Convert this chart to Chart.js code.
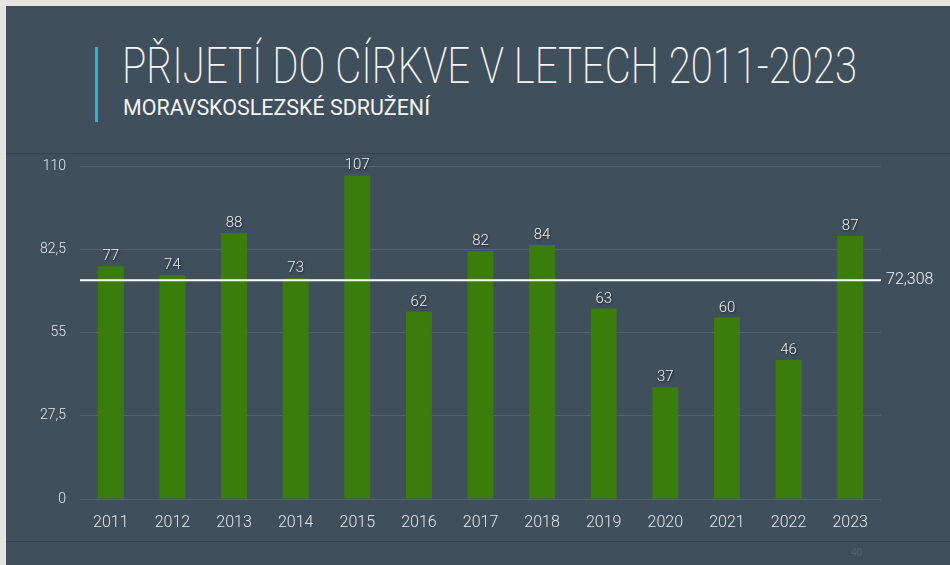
<!DOCTYPE html>
<html>
<head>
<meta charset="utf-8">
<script src="https://cdn.jsdelivr.net/npm/chart.js@4"></script>
<style>
  html, body { margin: 0; padding: 0; }
  body { width: 950px; height: 565px; background: #e6e4e1; position: relative; overflow: hidden; font-family: Roboto, "Liberation Sans", sans-serif; }
  #panel { position: absolute; left: 6px; top: 6px; width: 944px; height: 559px; background: #404f5c; }
  #accent { position: absolute; left: 95px; top: 47px; width: 3px; height: 75px; background: #2bb3d3; }
  .fit { position: absolute; white-space: nowrap; transform-origin: 0 0; color: #f4f4f4; }
  #title { left: 122px; top: 38px; font-size: 50px; font-weight: 200; line-height: 56px; }
  #subtitle { left: 123px; top: 95px; font-size: 22px; font-weight: 400; line-height: 26px; }
  .sep { position: absolute; left: 6px; width: 944px; height: 1px; background: #36434e; }
  #pageNo { position: absolute; left: 851px; top: 547px; font-size: 10px; color: #52606b; }
  #chartBox { position: absolute; left: 6px; top: 144px; width: 944px; height: 396px; }
</style>
</head>
<body>
<div id="panel"></div>
<div id="accent"></div>
<div id="title" class="fit" data-w="735">PŘIJETÍ DO CÍRKVE V LETECH 2011-2023</div>
<div id="subtitle" class="fit" data-w="307">MORAVSKOSLEZSKÉ SDRUŽENÍ</div>
<div class="sep" style="top:153px"></div>
<div class="sep" style="top:541px"></div>
<div id="pageNo">40</div>
<div id="chartBox"><canvas id="myChart"></canvas></div>
<script>
const years = ["2011", "2012", "2013", "2014", "2015", "2016", "2017", "2018", "2019", "2020", "2021", "2022", "2023"];
const admissions = [77, 74, 88, 73, 107, 62, 82, 84, 63, 37, 60, 46, 87];
const yTicks = [0, 27.5, 55, 82.5, 110];

// squeeze title texts to the width in the picture
document.querySelectorAll(".fit").forEach(function (el) {
  const w = el.getBoundingClientRect().width;
  el.style.transform = "scaleX(" + (Number(el.dataset.w) / w) + ")";
});

const average = admissions.reduce((a, b) => a + b, 0) / admissions.length;
const czNum = (v, d) => String(Number(v.toFixed(d))).replace(".", ",");

const overlay = {
  id: "overlay",
  afterDatasetsDraw(chart) {
    const ctx = chart.ctx;
    const area = chart.chartArea;
    const y = chart.scales.y.getPixelForValue(average);
    ctx.save();
    ctx.strokeStyle = "#ffffff";
    ctx.lineWidth = 2;
    ctx.beginPath();
    ctx.moveTo(area.left, y);
    ctx.lineTo(area.right, y);
    ctx.stroke();
    ctx.fillStyle = "#eef0f2";
    ctx.font = "300 16px Roboto, sans-serif";
    ctx.textBaseline = "middle";
    ctx.fillText(czNum(average, 3), area.right + 5, y);

    // value labels over bars
    const meta = chart.getDatasetMeta(0);
    ctx.font = "300 15px Roboto, sans-serif";
    ctx.textAlign = "center";
    ctx.textBaseline = "alphabetic";
    ctx.shadowColor = "rgba(0,0,0,0.6)";
    ctx.shadowOffsetX = 1;
    ctx.shadowOffsetY = 1;
    ctx.shadowBlur = 2;
    meta.data.forEach(function (bar, i) {
      ctx.fillText(String(admissions[i]), bar.x, bar.y - 6);
    });
    ctx.restore();
  },
};

const ctx = document.getElementById("myChart").getContext("2d");
new Chart(ctx, {
  type: "bar",
  data: {
    labels: years,
    datasets: [
      {
        label: "Přijetí",
        data: admissions,
        backgroundColor: "#3b7d0b",
        borderWidth: 0,
        categoryPercentage: 1,
        barPercentage: 0.42,
      },
    ],
  },
  options: {
    responsive: true,
    maintainAspectRatio: false,
    animation: false,
    layout: { padding: { top: 9, right: 69, left: 0, bottom: 0 } },
    scales: {
      x: {
        grid: { display: false, drawTicks: false },
        border: { display: false },
        ticks: { color: "#e4e6e8", font: { size: 16, family: "Roboto", weight: "300" }, padding: 14, maxRotation: 0 },
        afterFit(scale) { scale.height = 41; },
      },
      y: {
        min: 0,
        max: 110,
        afterBuildTicks(scale) { scale.ticks = yTicks.map((v) => ({ value: v })); },
        grid: { color: "#55636f", lineWidth: 1, drawTicks: false },
        border: { display: false },
        ticks: {
          color: "#e4e6e8",
          font: { size: 14, family: "Roboto", weight: "300" },
          padding: 14,
          callback: (v) => czNum(v, 1),
        },
        afterFit(scale) { scale.width = 74; },
      },
    },
    plugins: { legend: { display: false }, tooltip: { enabled: false } },
  },
  plugins: [overlay],
});
</script>
</body>
</html>
